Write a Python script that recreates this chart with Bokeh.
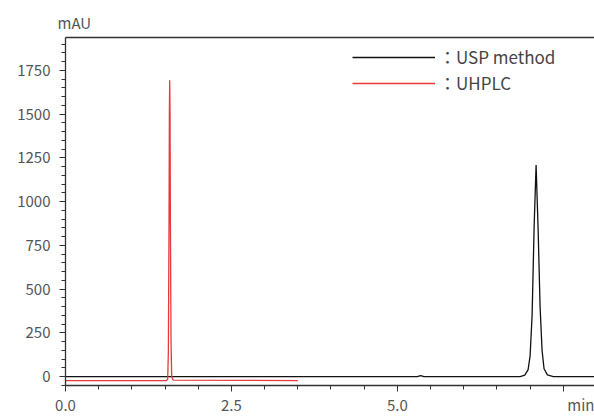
from bokeh.plotting import figure
from bokeh.models import Range1d, LinearAxis, FixedTicker, Legend, LegendItem
from bokeh.embed import file_html
from bokeh.resources import INLINE

# USP method chromatogram (black)
usp_time = [0.0, 5.30, 5.35, 5.40, 6.85, 6.92, 6.97, 7.00, 7.03, 7.06, 7.09, 7.12, 7.15, 7.18, 7.21, 7.26, 7.35, 8.0]
usp_mau = [0, 0, 6, 0, 0, 8, 40, 120, 350, 850, 1209, 850, 400, 150, 45, 10, 0, 0]

# UHPLC chromatogram (red)
uhplc_time = [0.0, 1.52, 1.54, 1.55, 1.56, 1.565, 1.57, 1.575, 1.58, 1.59, 1.60, 1.62, 3.5]
uhplc_mau = [-23, -23, -15, 150, 900, 1500, 1693, 1500, 900, 200, 0, -20, -23]

x_major = [0.0, 2.5, 5.0, 7.5]
x_labels = {0.0: "0.0", 2.5: "2.5", 5.0: "5.0", 7.5: "\u00a0" * 11 + "min"}
y_major = [0, 250, 500, 750, 1000, 1250, 1500, 1750]

FONT = "Noto Sans CJK JP"

p = figure(width=594, height=417, output_backend="svg", toolbar_location=None,
           x_range=Range1d(0, 7.97), y_range=Range1d(-51, 1938),
           min_border_left=65, min_border_right=0, min_border_top=37, min_border_bottom=31)
p.outline_line_color = None
p.grid.visible = False
p.background_fill_color = "white"
p.border_fill_color = "white"

p.title.text = "mAU"
p.title.align = "left"
p.title.offset = -8
p.title.text_font = FONT
p.title.text_font_size = "15px"
p.title.text_font_style = "normal"
p.title.text_color = "#555555"

r_usp = p.line(usp_time, usp_mau, line_color="#111111", line_width=1.3)
r_uhplc = p.line(uhplc_time, uhplc_mau, line_color="#e8383d", line_width=1.3)

for ax in (p.xaxis[0], p.yaxis[0]):
    ax.axis_line_color = "#333333"
    ax.major_tick_line_color = "#333333"
    ax.minor_tick_line_color = "#333333"
    ax.major_tick_in = 0
    ax.major_tick_out = 6
    ax.minor_tick_in = 0
    ax.minor_tick_out = 4
    ax.axis_line_width = 1.3
    ax.major_label_text_font = FONT
    ax.major_label_text_font_size = "15px"
    ax.major_label_text_color = "#555555"

p.xaxis[0].ticker = FixedTicker(ticks=x_major, minor_ticks=[i * 0.5 for i in range(17)])
p.xaxis[0].major_label_overrides = x_labels
p.xaxis[0].major_label_standoff = 2
p.yaxis[0].ticker = FixedTicker(ticks=y_major, minor_ticks=[i * 50 for i in range(-1, 39)])
p.yaxis[0].major_label_standoff = 9

top = LinearAxis(ticker=FixedTicker(ticks=[]), axis_line_color="#333333", axis_line_width=1.3,
                 major_tick_out=0, minor_tick_out=0, major_label_text_font_size="0px")
p.add_layout(top, "above")

legend = Legend(items=[LegendItem(label="：USP method", renderers=[r_usp]),
                       LegendItem(label="：UHPLC", renderers=[r_uhplc])],
                location=(287, 290), glyph_width=83, glyph_height=20, label_height=20,
                spacing=1, padding=0, margin=0, label_standoff=4,
                border_line_color=None, background_fill_alpha=0,
                label_text_font=FONT, label_text_font_size="17px", label_text_color="#444444")
p.add_layout(legend)

open("out.html", "w").write(file_html(p, INLINE))
